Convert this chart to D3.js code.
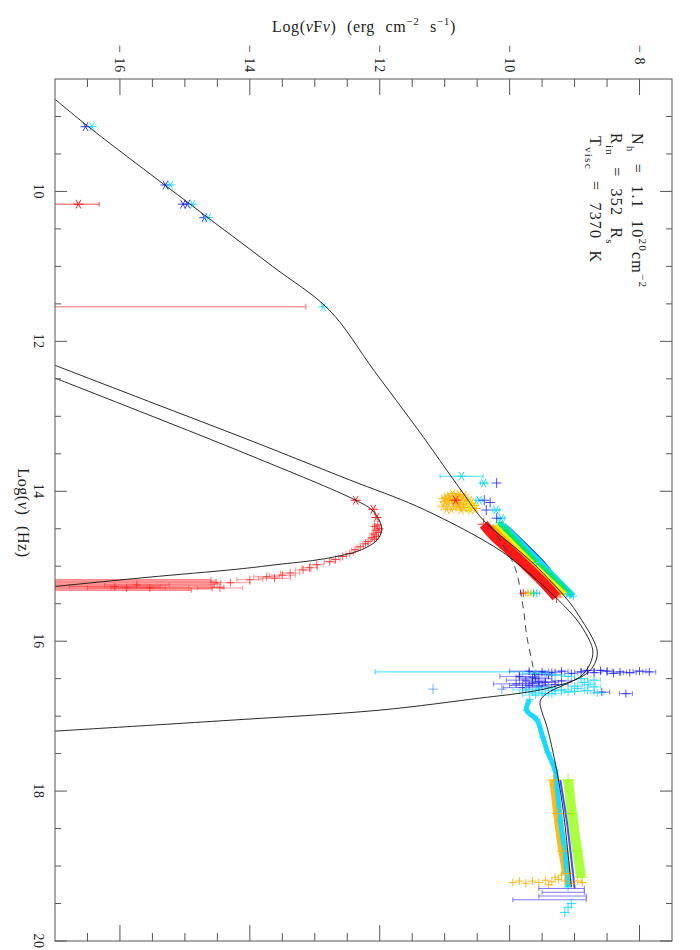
<!DOCTYPE html>
<html>
<head>
<meta charset="utf-8">
<script src="https://cdn.jsdelivr.net/npm/d3@7"></script>
<style>
  body { margin: 0; background: #fff; }
  svg { display: block; }
  text { font-family: "Liberation Serif", "DejaVu Serif", serif; fill: #222; }
</style>
</head>
<body>
<div id="chart"></div>
<script>
// all points are [log nu, log nuFnu] (the page is a landscape plot turned 90 deg)
const xMajor = [-16, -14, -12, -10, -8]
const yMajor = [10, 12, 14, 16, 18, 20]

// model curves
const jetTotal = [[8.77,-17.0],[9.14,-16.48],[10.17,-14.92],[11.0,-13.65],[11.58,-12.78],[12.4,-12.08],
  [13.18,-11.41],[14.02,-10.72],[14.38,-10.41],[14.96,-9.64],[15.49,-9.07],[15.72,-8.89],[15.95,-8.73],
  [16.14,-8.65],[16.3,-8.69],[16.43,-8.81],[16.57,-9.13],[16.7,-9.43],[16.8,-9.53],[16.95,-9.5],
  [17.1,-9.44],[17.49,-9.33],[18.16,-9.19],[19.28,-9.05]]
const diskModel = [[12.32,-17.0],[12.8,-15.56],[13.32,-14.0],[13.85,-12.46],[14.2,-11.43],[14.65,-10.41],
  [14.92,-9.94],[15.61,-9.07],[15.85,-8.86],[16.12,-8.72],[16.3,-8.76],[16.48,-8.92],[16.61,-9.33],
  [16.68,-9.73],[16.76,-10.46],[16.92,-12.0],[17.06,-14.4],[17.2,-17.0]]
const hostModel = [[12.49,-17.0],[13.52,-14.0],[14.12,-12.37],[14.25,-12.12],[14.4,-12.0],[14.52,-11.97],
  [14.65,-12.04],[14.78,-12.28],[14.9,-12.85],[14.98,-13.6],[15.04,-14.2],[15.15,-15.6],[15.27,-17.0]]
const jetCut = [[14.45,-10.3],[14.65,-10.15],[15.01,-9.92],[15.5,-9.8],[15.96,-9.73],[16.34,-9.64],[16.55,-9.6]]

// radio
const radioBlue = [[9.136,-16.53],[9.914,-15.3],[10.17,-15.03],[10.17,-14.96],[10.35,-14.7]]
const radioCyan = [[9.136,-16.43],[9.914,-15.22],[10.17,-14.88],[10.35,-14.64],[11.54,-12.87]]
const radioRed = [[10.17,-16.64,-17.4,-16.32]]
const radioLimit = [[11.54,-17.5,-13.14]]

// near infrared
const nirOrange = [[14.03,-10.88],[14.04,-10.78],[14.05,-10.70],[14.06,-10.93],[14.08,-10.98],[14.09,-10.84],
  [14.1,-11.02],[14.11,-10.74],[14.12,-10.9],[14.13,-10.66],[14.14,-11.0],[14.15,-10.8],[14.16,-10.6],
  [14.17,-10.95],[14.18,-10.72],[14.19,-10.55],[14.2,-11.03],[14.21,-10.85],[14.22,-10.64],[14.23,-10.52],
  [14.24,-10.9],[14.25,-10.75],[14.25,-10.6],[14.2,-10.8],[14.14,-10.85],[14.06,-10.82],[14.1,-10.92],
  [14.17,-10.78],[14.22,-10.7],[14.24,-10.97],[14.12,-10.62],[14.08,-10.72]]
const nirYellow = [[14.15,-10.6],[14.2,-10.58],[14.23,-10.62]]
const nirRed = [[14.12,-10.83]]
const nirCyan = [[13.8,-10.74,0.33],[13.89,-10.4,0.05],[14.12,-10.47,0.05],[14.25,-10.21,0.05],[14.36,-10.13,0.05]]
const nirBlue = [[13.89,-10.2],[14.12,-10.39],[14.25,-10.36],[14.36,-10.2],[14.15,-10.3]]

// host galaxy (red) optical points
const hostStars = [[14.12,-12.37],[14.24,-12.1],[14.35,-12.05]]
const hostCross = [[14.45,-12.03,0.03],[14.47,-12.08,0.03],[14.5,-12.0,0.03],[14.52,-12.06,0.03],
  [14.55,-12.02,0.03],[14.57,-12.1,0.03],[14.6,-12.05,0.03],[14.62,-12.12,0.04],[14.64,-12.08,0.03],
  [14.67,-12.18,0.04],[14.7,-12.22,0.04],[14.74,-12.3,0.05],[14.78,-12.38,0.05],[14.83,-12.46,0.06],
  [14.87,-12.57,0.06],[14.91,-12.68,0.07],[14.94,-12.77,0.08],[14.98,-12.97,0.1],[15.02,-13.08,0.12],
  [15.05,-13.18,0.12],[15.09,-13.38,0.15],[15.12,-13.5,0.2],[15.14,-13.74,0.2],[15.16,-13.62,0.25],
  [15.18,-14.0,0.2],[15.22,-14.3,0.3],[15.29,-14.46,0.35],[15.29,-15.54,0.6],[15.25,-15.74,0.5],
  [15.29,-15.9,0.6],[15.27,-16.08,0.7]]
const hostBars = [[15.18,-14.6],[15.2,-14.52],[15.22,-14.45],[15.24,-14.5],[15.26,-14.55],[15.28,-14.4],
  [15.3,-14.58],[15.32,-14.9]]

// optical/UV spectra (dense crosses)
const optRed = [[14.44,-10.4],[14.6,-10.24],[14.75,-10.05],[14.9,-9.86],[15.05,-9.68],[15.2,-9.5],[15.41,-9.28]]
const optOrange = [[14.46,-10.28],[14.95,-9.72],[15.38,-9.2]]
const optYellow = [[14.46,-10.22],[14.95,-9.66],[15.38,-9.14]]
const optGreen = [[14.42,-10.16],[14.95,-9.59],[15.38,-9.07]]
const optCyan = [[14.45,-10.1],[14.95,-9.53],[15.4,-9.02]]
const optBlue = [[14.48,-10.05],[14.95,-9.5],[15.1,-9.36]]
const optRow = [[15.36,-9.79,'red'],[15.36,-9.72,'orange'],[15.36,-9.67,'yellow'],[15.36,-9.63,'green'],[15.36,-9.58,'cyan']]
const optEndStar = [[15.37,-9.1]]

// far UV / soft X-ray
const uvLongBar = [[16.41,-10.8,-12.07,-9.45]]
const uvBlue = [[16.4,-9.7,0.3],[16.41,-9.5,0.2],[16.42,-9.35,0.15],[16.4,-9.2,0.1],[16.43,-9.05,0.1],
  [16.41,-8.9,0.1],[16.42,-8.7,0.1],[16.4,-8.5,0.08],[16.41,-8.3,0.1],[16.42,-8.15,0.1],[16.4,-8.0,0.1],
  [16.41,-7.85,0.1],[16.39,-8.6,0.1],[16.43,-8.4,0.1],[16.39,-8.8,0.1],[16.44,-9.6,0.25],[16.45,-9.4,0.2],
  [16.47,-9.85,0.3],[16.48,-9.65,0.25],[16.5,-9.6,0.25],[16.52,-9.75,0.3],[16.54,-9.55,0.25],
  [16.55,-9.45,0.2],[16.57,-9.9,0.35],[16.58,-9.3,0.2],[16.6,-9.55,0.2],[16.62,-9.8,0.3],[16.53,-9.2,0.15],
  [16.56,-9.65,0.2],[16.59,-9.7,0.3],[16.68,-8.58,0.12],[16.7,-8.21,0.1]]
const uvCyan = [[16.43,-9.6,0.2],[16.45,-9.3,0.15],[16.47,-9.1,0.1],[16.5,-8.9,0.1],[16.52,-8.7,0.1],
  [16.62,-9.4,0.2],[16.65,-9.2,0.15],[16.67,-9.0,0.15],[16.66,-8.8,0.1],[16.68,-9.65,0.2],[16.7,-9.5,0.2],
  [16.69,-8.65,0.1],[16.6,-9.0,0.1],[16.55,-8.85,0.1],[16.64,-9.55,0.2],[16.66,-9.3,0.15],[16.68,-9.1,0.1],
  [16.63,-8.95,0.1],[16.7,-9.35,0.15],[16.72,-9.6,0.2],[16.65,-9.75,0.2],[16.61,-8.7,0.1],[16.58,-8.78,0.1]]
const uvLight = [[16.64,-11.18],[16.64,-10.12]]

// X-ray spectra
const xCyan = [[16.78,-9.69],[16.92,-9.74],[17.05,-9.58],[17.28,-9.49],[17.49,-9.41],[17.72,-9.3],
  [17.95,-9.27],[18.39,-9.22],[18.83,-9.15],[19.28,-9.1]]
const xOrange = [[17.85,-9.32],[18.3,-9.26],[18.8,-9.18],[19.1,-9.12]]
const xLime = [[17.85,-9.1],[18.3,-9.04],[18.8,-8.96],[19.15,-8.9]]
const xBlue = [[17.85,-9.22],[18.4,-9.12],[18.9,-9.05],[19.3,-9.0]]
const xOrangeFan = [[19.22,-9.95],[19.2,-9.85],[19.23,-9.75],[19.2,-9.65],[19.22,-9.55],[19.19,-9.45],
  [19.21,-9.35],[19.18,-9.25],[19.2,-9.15],[19.23,-9.05],[19.2,-8.95],[19.22,-8.88],[19.15,-9.3],
  [19.12,-9.2],[19.25,-9.4]]
const xViolet = [[19.3,-9.05,-9.55,-8.85],[19.35,-9.05,-9.5,-8.85],[19.4,-9.03,-9.55,-8.82],[19.45,-9.02,-9.95,-8.82]]
const xCyanEnd = [[19.55,-9.1],[19.62,-9.15],[19.5,-9.05]]

const colors = {
  red: '#ff1a1a', orange: '#ffb300', yellow: '#f2f000', green: '#00e676', lime: '#9cff1e',
  cyan: '#1ad9ff', blue: '#1f1fff', azure: '#2a7dff', violet: '#4b3cff'
}

const width = 700
const height = 950
const x = d3.scaleLinear().domain([-17, -7.5]).range([55, 672])
const y = d3.scaleLinear().domain([8.5, 20]).range([79, 941])

const svg = d3.select('#chart').append('svg').attr('width', width).attr('height', height)

svg.append('clipPath').attr('id', 'clip')
  .append('rect').attr('x', 55).attr('y', 79).attr('width', 617).attr('height', 862)

const plot = svg.append('g').attr('clip-path', 'url(#clip)')

function cross(cx, cy, r) {
  return `M${cx - r},${cy}H${cx + r}M${cx},${cy - r}V${cy + r}`
}
function asterisk(cx, cy, r) {
  const a = r * 0.5, b = r * 0.87
  return `M${cx - r},${cy}H${cx + r}M${cx - a},${cy - b}L${cx + a},${cy + b}M${cx - a},${cy + b}L${cx + a},${cy - b}`
}

function band(data, color, w, op) {
  plot.append('path').datum(data)
    .attr('d', d3.line().x((d) => x(d[1])).y((d) => y(d[0])).curve(d3.curveCatmullRom))
    .attr('fill', 'none').attr('stroke', color).attr('stroke-width', w)
    .attr('stroke-opacity', op).attr('stroke-linecap', 'butt')
}

function marks(data, color, shape, r, op) {
  plot.append('g').selectAll('path').data(data).join('path')
    .attr('d', (d) => (shape === 'star' ? asterisk : cross)(x(d[1]), y(d[0]), r))
    .attr('fill', 'none').attr('stroke', (d) => (typeof d[2] === 'string' ? colors[d[2]] : color))
    .attr('stroke-opacity', op).attr('stroke-width', 1)
}

// horizontal error bars: [nu, f, err] or [nu, f, lo, hi]
function errs(data, color, op) {
  const g = plot.append('g').attr('stroke', color).attr('stroke-opacity', op).attr('fill', 'none')
  data.forEach((d) => {
    const lo = d.length > 3 ? d[2] : d[1] - d[2]
    const hi = d.length > 3 ? d[3] : d[1] + d[2]
    const yy = y(d[0])
    g.append('path').attr('d', `M${x(lo)},${yy}H${x(hi)}M${x(lo)},${yy - 2.5}V${yy + 2.5}M${x(hi)},${yy - 2.5}V${yy + 2.5}`)
  })
}

// --- radio ---
errs(radioRed, colors.red, 0.8)
marks(radioRed, colors.red, 'star', 5, 1)
plot.append('g').selectAll('path').data(radioLimit).join('path')
  .attr('d', (d) => `M${x(d[1])},${y(d[0])}H${x(d[2])}M${x(d[2])},${y(d[0]) - 3}V${y(d[0]) + 3}`)
  .attr('stroke', colors.red).attr('stroke-opacity', 0.45).attr('stroke-width', 1.5).attr('fill', 'none')
marks(radioBlue, colors.blue, 'star', 5, 0.9)
marks(radioCyan, colors.cyan, 'star', 5, 0.9)

// --- host galaxy ---
plot.append('g').selectAll('path').data(hostBars).join('path')
  .attr('d', (d) => `M${x(-17.3)},${y(d[0])}H${x(d[1])}M${x(d[1])},${y(d[0]) - 2.5}V${y(d[0]) + 2.5}`)
  .attr('stroke', colors.red).attr('stroke-opacity', 0.5).attr('stroke-width', 1.6).attr('fill', 'none')
errs(hostCross, colors.red, 0.45)
marks(hostCross, colors.red, 'cross', 4, 0.7)
marks(hostStars, colors.red, 'star', 5, 1)

// --- near infrared ---
marks(nirOrange, colors.orange, 'star', 5, 0.9)
marks(nirYellow, colors.yellow, 'star', 5, 0.9)
marks(nirRed, colors.red, 'star', 5, 1)
errs(nirCyan, colors.cyan, 0.8)
marks(nirCyan, colors.cyan, 'star', 5, 1)
marks(nirBlue, colors.blue, 'cross', 5, 0.8)

// --- optical spectra ---
band(optBlue, colors.blue, 5, 1)
band(optCyan, colors.cyan, 6, 1)
band(optGreen, colors.green, 6, 1)
band(optYellow, colors.yellow, 5, 1)
band(optOrange, colors.orange, 5, 1)
band(optRed, colors.red, 10, 1)
marks(optRed, colors.red, 'cross', 6, 0.9)
marks(optGreen, colors.green, 'cross', 4, 0.9)
marks(optCyan, colors.cyan, 'cross', 4, 0.9)
errs(optRow.map((d) => [d[0], d[1], 0.04]), '#888', 0.6)
marks(optRow, null, 'cross', 4, 1)
marks(optEndStar, colors.cyan, 'star', 5, 1)

// --- UV ---
errs(uvLongBar, colors.cyan, 0.9)
errs(uvBlue, colors.blue, 0.55)
marks(uvBlue, colors.blue, 'cross', 4, 0.8)
errs(uvCyan, colors.cyan, 0.6)
marks(uvCyan, colors.cyan, 'cross', 4, 0.85)
marks(uvLight, colors.azure, 'cross', 5, 0.6)

// --- X-ray ---
band(xLime, colors.lime, 10, 0.85)
band(xOrange, colors.orange, 9, 0.9)
band(xCyan, colors.cyan, 5, 1)
band(xBlue, colors.blue, 2, 0.8)
marks(xCyan, colors.cyan, 'cross', 4, 0.9)
marks(xLime, colors.lime, 'cross', 6, 0.9)
marks(xOrange, colors.orange, 'cross', 6, 0.9)
marks(xOrangeFan, colors.orange, 'cross', 4, 0.9)
errs(xViolet, colors.violet, 0.7)
marks(xCyanEnd, colors.cyan, 'cross', 5, 0.9)

// --- models ---
const model = d3.line().x((d) => x(d[1])).y((d) => y(d[0])).curve(d3.curveCatmullRom.alpha(0.5))
plot.append('g').attr('fill', 'none').attr('stroke', '#111').attr('stroke-width', 0.9)
  .selectAll('path').data([jetTotal, diskModel, hostModel]).join('path').attr('d', model)
plot.append('path').datum(jetCut).attr('d', model)
  .attr('fill', 'none').attr('stroke', '#333').attr('stroke-width', 0.9).attr('stroke-dasharray', '7,5')

// --- frame and ticks ---
const axisColor = '#555'
const xMinor = d3.range(-16.5, -7.5, 0.5).filter((v) => !xMajor.includes(v))
const yMinor = d3.range(9, 20, 0.5).filter((v) => !yMajor.includes(v))
const frame = svg.append('g').attr('stroke', axisColor).attr('fill', 'none')
frame.append('rect').attr('x', 55).attr('y', 79).attr('width', 617).attr('height', 862)
xMajor.concat(xMinor).forEach((v) => {
  const len = xMajor.includes(v) ? 16 : 8
  frame.append('path').attr('d', `M${x(v)},79V${79 + len}M${x(v)},941V${941 - len}`)
})
yMajor.concat(yMinor).forEach((v) => {
  const len = yMajor.includes(v) ? 12 : 6
  frame.append('path').attr('d', `M55,${y(v)}H${55 + len}M672,${y(v)}H${672 - len}`)
})

// rich text with sub/superscripts
function rich(text, parts, fs) {
  let shift = 0
  parts.forEach(([s, m]) => {
    const target = m === 'sup' ? -0.42 * fs : m === 'sub' ? 0.3 * fs : 0
    const t = text.append('tspan').text(s).attr('dy', target - shift)
    if (m === 'sup' || m === 'sub') t.attr('font-size', fs * 0.7)
    if (m === 'it') t.attr('font-style', 'italic')
    shift = target
  })
}

// tick labels (rotated like the rest of the page)
svg.append('g').selectAll('text').data(xMajor).join('text')
  .attr('transform', (d) => `translate(${x(d)},45) rotate(90)`)
  .attr('dy', '0.35em').attr('font-size', 14).attr('letter-spacing', 0.6)
  .text((d) => `\u2212 ${Math.abs(d)}`)
svg.append('g').selectAll('text').data(yMajor).join('text')
  .attr('transform', (d) => `translate(38.5,${y(d)}) rotate(90)`)
  .attr('dy', '0.35em').attr('text-anchor', 'middle').attr('font-size', 14).attr('letter-spacing', 0.6)
  .text((d) => d)

// axis titles
const fs = 16
const title = svg.append('text').attr('x', 364).attr('y', 32).attr('text-anchor', 'middle')
  .attr('font-size', fs).attr('word-spacing', 6).attr('letter-spacing', 0.6)
rich(title, [['Log(', 'n'], ['\u03bd', 'it'], ['F', 'n'], ['\u03bd', 'it'], [') (erg cm', 'n'], ['\u22122', 'sup'],
  [' s', 'n'], ['\u22121', 'sup'], [')', 'n']], fs)

const ylab = svg.append('text').attr('transform', 'translate(18,513) rotate(90)')
  .attr('text-anchor', 'middle').attr('font-size', fs).attr('word-spacing', 6).attr('letter-spacing', 0.6)
rich(ylab, [['Log(', 'n'], ['\u03bd', 'it'], [') (Hz)', 'n']], fs)

// fit parameters
const notes = [
  [632, 133, [['N', 'n'], ['h', 'sub'], [' = 1.1 10', 'n'], ['20', 'sup'], ['cm', 'n'], ['\u22122', 'sup']]],
  [611, 133, [['R', 'n'], ['in', 'sub'], [' = 352 R', 'n'], ['s', 'sub']]],
  [590, 136, [['T', 'n'], ['visc', 'sub'], [' = 7370 K', 'n']]]
]
notes.forEach(([nx, ny, parts]) => {
  const t = svg.append('text').attr('transform', `translate(${nx},${ny}) rotate(90)`)
    .attr('font-size', fs).attr('word-spacing', 6).attr('letter-spacing', 1.2)
  rich(t, parts, fs)
})
</script>
</body>
</html>
